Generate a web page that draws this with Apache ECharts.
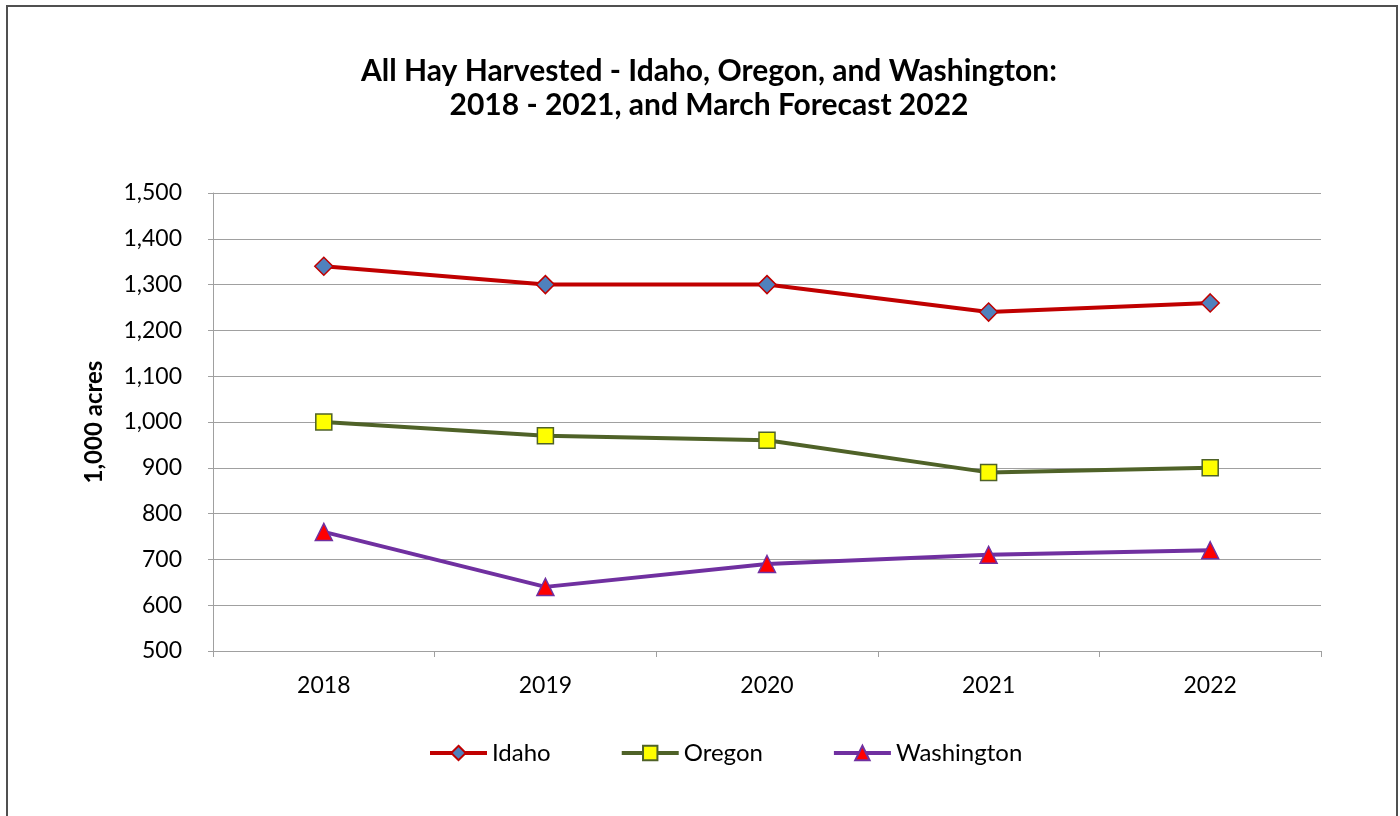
<!DOCTYPE html>
<html><head><meta charset="utf-8">
<script src="https://cdn.jsdelivr.net/npm/echarts@6/dist/echarts.min.js"></script>
<style>
html,body{margin:0;padding:0;background:#fff;}
#frame{position:absolute;left:6px;top:5px;width:1392px;height:830px;border:2px solid #505050;box-sizing:border-box;}
#chart{position:absolute;left:0;top:0;width:1400px;height:816px;}
</style></head><body>
<div id="frame"></div>
<div id="chart"></div>
<script>
const years = ['2018','2019','2020','2021','2022'];
const idaho = [1340, 1300, 1300, 1240, 1260];
const oregon = [1000, 970, 960, 890, 900];
const washington = [760, 640, 690, 710, 720];
const titleText = 'All Hay Harvested - Idaho, Oregon, and Washington:\n2018 - 2021, and March Forecast 2022';
const yAxisName = '1,000 acres';

const font = 'Lato, "Open Sans", sans-serif';
const chart = echarts.init(document.getElementById('chart'), null, {renderer:'canvas'});
function mk(name, data, lineColor, fill, symbol, size){
  return {name, type:'line', data, symbol, symbolSize:size,
    lineStyle:{color:lineColor, width:4},
    itemStyle:{color:fill, borderColor:lineColor, borderWidth:1.5},
    emphasis:{disabled:true}};
}
chart.setOption({
  animation:false,
  backgroundColor:'transparent',
  title:{text:titleText, left:709, top:54, padding:0, textAlign:'center',
    textStyle:{fontFamily:font, fontSize:30, fontWeight:'bold', color:'#000', lineHeight:34}},
  grid:{left:213, right:79, top:193, bottom:165},
  legend:{top:741, left:428, itemWidth:57, itemHeight:18, itemGap:69, padding:0,
    lineStyle:{width:4},
    textStyle:{fontFamily:font, fontSize:24, color:'#000'},
    data:['Idaho','Oregon','Washington']},
  xAxis:{type:'category', data:years, boundaryGap:true,
    axisLine:{lineStyle:{color:'#a0a0a0', width:1}},
    axisTick:{show:true, length:6, lineStyle:{color:'#a0a0a0'}},
    axisLabel:{fontFamily:font, fontSize:23, color:'#000', margin:23}},
  yAxis:{type:'value', min:500, max:1500, interval:100,
    name:yAxisName, nameLocation:'middle', nameGap:107, nameRotate:90,
    nameTextStyle:{fontFamily:font, fontSize:24, fontWeight:'bold', color:'#000'},
    axisLine:{show:true, lineStyle:{color:'#a0a0a0'}},
    axisTick:{show:true, length:5, lineStyle:{color:'#a0a0a0'}},
    axisLabel:{fontFamily:font, fontSize:23, color:'#000', margin:31,
      formatter:v=>v.toLocaleString('en-US')},
    splitLine:{lineStyle:{color:'#a0a0a0', width:1}}},
  series:[
    mk('Idaho', idaho, '#C00000', '#4F81BD', 'diamond', 18),
    mk('Oregon', oregon, '#4F6228', '#FFFF00', 'rect', 16),
    mk('Washington', washington, '#7030A0', '#FF0000', 'triangle', 17)
  ]
});
</script></body></html>
